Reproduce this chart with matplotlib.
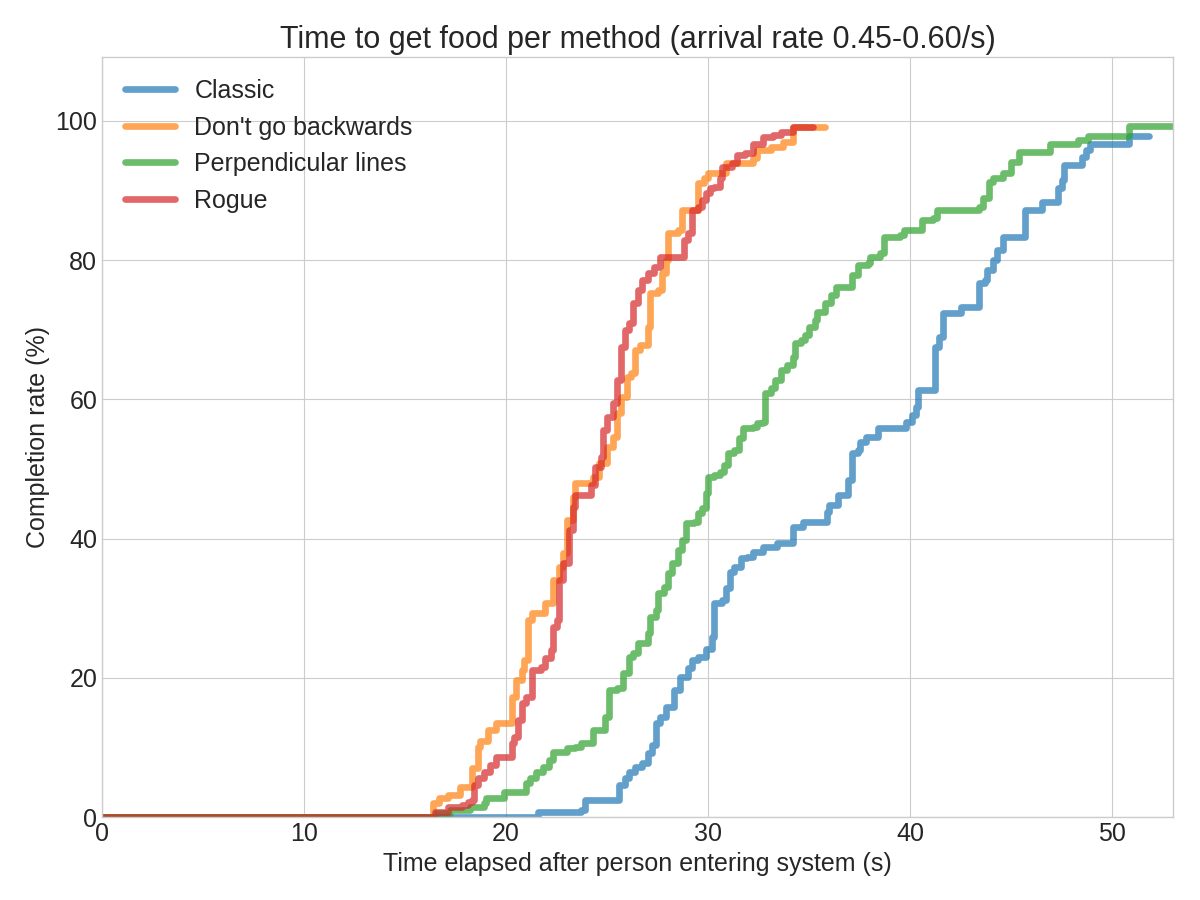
import numpy as np
import matplotlib
matplotlib.use('Agg')
import matplotlib.pyplot as plt

plt.style.use('seaborn-v0_8-whitegrid')
plt.rcParams['font.family'] = ['Liberation Sans', 'DejaVu Sans']

# completion curves: time (s) -> completion rate (%)
classic_t = [0, 21.6, 23.7, 23.9, 25.3, 25.6, 25.9, 26.1, 26.4, 26.7, 27.0, 27.2,
             27.4, 27.6, 27.9, 28.3, 28.6, 29.0, 29.2, 29.5, 29.9, 30.2, 30.3, 30.7,
             30.9, 31.1, 31.3, 31.6, 31.9, 32.2, 32.7, 33.4, 34.2, 34.7, 35.9, 36.0,
             36.4, 36.9, 37.1, 37.4, 37.5, 37.8, 38.4, 39.8, 40.1, 40.3, 40.4, 41.2,
             41.4, 41.6, 42.5, 43.4, 43.7, 43.8, 44.1, 44.3, 44.6, 45.7, 46.5, 47.3,
             47.5, 47.6, 48.5, 48.7, 48.9, 50.8, 51.8]
classic_y = [0, 0.7, 1.0, 2.4, 2.4, 4.6, 5.6, 6.5, 7.2, 7.8, 9.2, 10.3,
             13.5, 14.4, 15.8, 18.2, 20.1, 21.4, 22.6, 23.0, 24.1, 25.9, 30.7, 31.2,
             32.9, 35.2, 35.9, 37.2, 37.4, 38.1, 38.8, 39.4, 41.7, 42.4, 43.8, 44.8,
             46.3, 48.4, 52.3, 52.7, 53.9, 54.6, 55.9, 56.8, 57.8, 58.9, 61.4, 67.5,
             69.0, 72.4, 73.3, 76.7, 77.2, 78.6, 80.0, 81.5, 83.3, 87.2, 88.4, 90.4,
             91.5, 93.7, 94.8, 95.8, 96.6, 97.8, 97.8]

nobackwards_t = [0, 16.4, 16.7, 17.1, 17.7, 18.3, 18.6, 18.7, 19.1, 19.5, 20.3, 20.5,
                 20.8, 20.9, 21.1, 21.3, 21.9, 22.3, 22.6, 22.8, 23.0, 23.3, 23.4, 24.3,
                 24.6, 25.0, 25.3, 25.5, 25.7, 26.0, 26.2, 26.4, 26.6, 27.0, 27.1, 27.5,
                 27.7, 27.9, 28.0, 28.5, 28.7, 29.5, 29.8, 30.0, 30.9, 32.2, 32.4, 33.1,
                 33.7, 34.2, 35.8]
nobackwards_y = [0, 2.0, 2.7, 3.2, 4.3, 7.0, 10.1, 10.9, 12.5, 13.5, 17.2, 19.7,
                 21.1, 22.6, 28.3, 29.3, 30.7, 34.0, 35.9, 37.9, 42.7, 46.0, 48.0, 48.9,
                 50.9, 53.2, 54.6, 58.0, 60.3, 63.2, 63.8, 67.1, 67.8, 70.4, 75.3, 75.7,
                 78.2, 80.0, 83.9, 84.3, 87.2, 91.1, 91.8, 92.5, 94.0, 94.7, 95.8, 96.3,
                 97.0, 99.1, 99.1]

perpendicular_t = [0, 16.6, 17.2, 18.2, 18.9, 19.0, 19.9, 21.0, 21.2, 21.5, 21.8, 22.1,
                   22.3, 23.0, 23.4, 23.7, 24.3, 24.9, 25.1, 25.5, 25.8, 26.1, 26.3, 26.5,
                   27.0, 27.1, 27.4, 27.5, 27.8, 28.0, 28.2, 28.5, 28.7, 28.9, 29.3, 29.5,
                   29.7, 29.9, 30.0, 30.3, 30.6, 30.8, 31.0, 31.3, 31.5, 31.7, 32.2, 32.4,
                   32.7, 32.8, 33.1, 33.3, 33.6, 33.9, 34.2, 34.3, 34.6, 34.8, 35.0, 35.3,
                   35.4, 35.8, 36.1, 36.3, 36.9, 37.1, 37.4, 37.9, 38.0, 38.5, 38.7, 39.5,
                   39.7, 40.6, 41.1, 41.3, 43.4, 43.6, 43.9, 44.1, 44.6, 45.0, 45.4, 46.9,
                   48.3, 48.8, 50.8, 53.5]
perpendicular_y = [0, 0.6, 1.0, 1.4, 2.0, 2.7, 3.6, 4.9, 5.7, 6.5, 7.2, 8.2,
                   9.3, 9.9, 10.1, 10.6, 12.5, 14.4, 18.2, 18.5, 20.7, 23.0, 23.6, 25.0,
                   26.4, 28.7, 29.7, 32.2, 33.0, 35.1, 36.5, 38.4, 39.8, 42.2, 42.4, 43.7,
                   44.4, 46.6, 48.9, 49.1, 49.6, 50.6, 52.3, 52.7, 54.5, 55.9, 56.0, 56.6,
                   56.8, 60.9, 61.6, 62.8, 64.2, 64.9, 66.1, 68.1, 68.5, 69.3, 70.4, 71.4,
                   72.6, 73.9, 75.0, 76.1, 76.1, 77.9, 79.3, 79.6, 80.5, 81.0, 83.3, 83.6,
                   84.3, 85.8, 86.1, 87.2, 87.6, 88.9, 91.2, 91.8, 92.5, 94.1, 95.5, 96.6,
                   97.3, 97.8, 99.3, 99.3]

rogue_t = [0, 16.5, 17.1, 17.8, 18.1, 18.3, 18.4, 18.6, 18.9, 19.2, 19.5, 20.3,
           20.4, 20.6, 20.8, 21.0, 21.3, 21.7, 21.9, 22.2, 22.3, 22.5, 22.6, 22.8,
           23.1, 23.3, 23.4, 24.2, 24.4, 24.7, 24.8, 25.0, 25.3, 25.5, 25.7, 25.9,
           26.1, 26.3, 26.5, 26.7, 27.0, 27.3, 27.6, 28.8, 29.0, 29.2, 29.5, 29.7,
           29.9, 30.1, 30.3, 30.6, 30.7, 31.2, 31.4, 31.8, 32.2, 32.7, 33.2, 33.6,
           34.2, 35.2]
rogue_y = [0, 0.7, 1.4, 1.7, 2.2, 2.4, 4.6, 5.6, 6.5, 7.5, 8.6, 10.6,
           11.5, 13.9, 16.4, 17.2, 21.1, 21.6, 22.8, 24.0, 27.3, 28.3, 34.0, 36.5,
           41.2, 44.5, 46.3, 47.7, 50.3, 51.7, 55.6, 57.5, 59.5, 62.8, 67.5, 70.0,
           71.0, 73.9, 75.7, 77.2, 78.2, 79.0, 80.5, 82.9, 83.9, 87.2, 87.6, 88.6,
           89.7, 90.4, 90.5, 91.8, 93.4, 94.0, 95.1, 95.4, 96.6, 97.7, 98.0, 98.4,
           99.1, 99.1]

methods = ['Classic', "Don't go backwards", 'Perpendicular lines', 'Rogue']
series = [(classic_t, classic_y), (nobackwards_t, nobackwards_y),
          (perpendicular_t, perpendicular_y), (rogue_t, rogue_y)]

fig, ax = plt.subplots(figsize=(12, 9), dpi=100)
fig.subplots_adjust(left=0.085, right=0.9775, top=0.937, bottom=0.092)

for name, (t, y) in zip(methods, series):
    ax.plot(t, y, drawstyle='steps-post', lw=4.8, alpha=0.7, label=name)

ax.set_xlim(0, 53)
ax.set_ylim(0, 109.2)
ax.set_title('Time to get food per method (arrival rate 0.45-0.60/s)', fontsize=22)
ax.set_xlabel('Time elapsed after person entering system (s)', fontsize=18)
ax.set_ylabel('Completion rate (%)', fontsize=18)
ax.tick_params(labelsize=18)
ax.legend(loc='upper left', fontsize=18, frameon=False)

fig.savefig('out.png')
